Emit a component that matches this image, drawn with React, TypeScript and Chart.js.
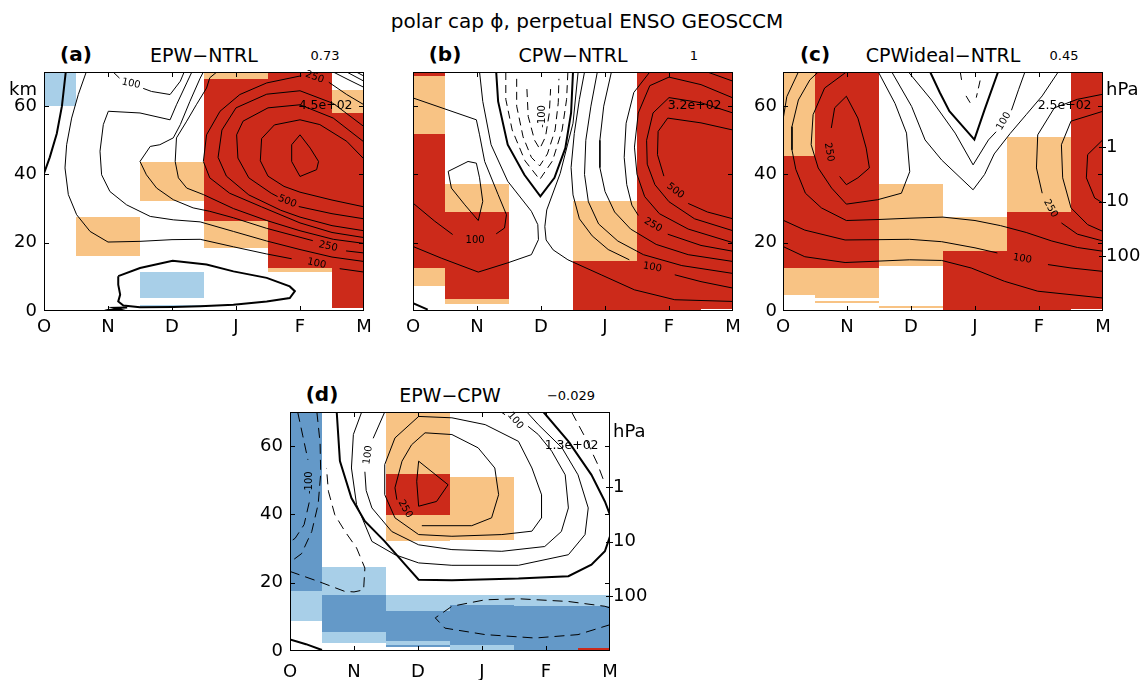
import React, { useEffect, useRef } from 'react';
import { Chart, registerables } from 'chart.js';

Chart.register(...registerables);

type P = [number, number] | null;
type Line = { kind: 'pos' | 'neg' | 'zero'; pts: P[] };
type Cell = [number, number, number, number, string];
type CLabel = [string, number, number, number];

// ---------- data ----------
const MONTHS = ['O', 'N', 'D', 'J', 'F', 'M'];
const KM_TICKS = [0, 20, 40, 60];
const HPA_TICKS_KM = [16, 32, 48];
const HPA_LABELS = ['100', '10', '1'];

const TITLE = 'polar cap \u03d5, perpetual ENSO GEOSCCM';
const PANEL_TAGS = ['(a)', '(b)', '(c)', '(d)'];
const PANEL_NAMES = ['EPW\u2212NTRL', 'CPW\u2212NTRL', 'CPWideal\u2212NTRL', 'EPW\u2212CPW'];
const PANEL_CORR = ['0.73', '1', '0.45', '\u22120.029'];
const PANEL_MAX = ['4.5e+02', '3.2e+02', '2.5e+02', '1.3e+02'];

// significance cells: [monthFrom, monthTo, kmFrom, kmTo, class]
const A_CELLS: Cell[] = [
  [0, 0.5, 59.9, 70, 'L'],
  [0.5, 1.5, 16.1, 27.6, 'O'],
  [1.5, 2.5, 32.3, 43.7, 'O'],
  [1.5, 2.5, 3.7, 11.3, 'L'],
  [1.5, 2.5, 1.1, 1.8, 'L'],
  [2.5, 3.5, 67.9, 70, 'O'],
  [2.5, 3.5, 26.3, 67.9, 'R'],
  [2.5, 3.5, 18.5, 26.3, 'O'],
  [3.5, 4.5, 12.7, 70, 'R'],
  [3.5, 4.5, 11.3, 12.7, 'O'],
  [4.5, 5, 58.1, 64.7, 'O'],
  [4.5, 5, 0.8, 58.1, 'R'],
];
const B_CELLS: Cell[] = [
  [0, 0.5, 68.8, 70, 'R'],
  [0, 0.5, 51.8, 68.8, 'O'],
  [0, 0.5, 12.6, 51.8, 'R'],
  [0, 0.5, 7.4, 12.6, 'O'],
  [0.5, 1.5, 29.0, 37.2, 'O'],
  [0.5, 1.5, 3.6, 29.0, 'R'],
  [0.5, 1.5, 2.0, 3.6, 'O'],
  [2.5, 3.5, 14.5, 32.3, 'O'],
  [2.5, 3.5, 0, 14.5, 'R'],
  [3.5, 4.5, 0, 70, 'R'],
  [4.5, 5, 0.6, 70, 'R'],
];
const C_CELLS: Cell[] = [
  [0, 0.5, 45.3, 70, 'O'],
  [0, 0.5, 12.6, 45.3, 'R'],
  [0, 0.5, 4.7, 12.6, 'O'],
  [0.5, 1.5, 12.6, 70, 'R'],
  [0.5, 1.5, 3.8, 12.6, 'O'],
  [0.5, 1.5, 2.4, 2.9, 'O'],
  [1.5, 2.5, 13.1, 37.2, 'O'],
  [1.5, 2.5, 0.8, 1.6, 'O'],
  [2.5, 3.5, 17.7, 27.4, 'O'],
  [2.5, 3.5, 0, 17.7, 'R'],
  [3.5, 4.5, 29.1, 50.9, 'O'],
  [3.5, 4.5, 0, 29.1, 'R'],
  [4.5, 5, 0.7, 70, 'R'],
];
const D_CELLS: Cell[] = [
  [0, 0.5, 17.5, 70, 'B'],
  [0, 0.5, 8.7, 17.5, 'L'],
  [0.5, 1.5, 16.3, 24.5, 'L'],
  [0.5, 1.5, 5.6, 16.3, 'B'],
  [0.5, 1.5, 2.4, 5.6, 'L'],
  [1.5, 2.5, 51.7, 70, 'O'],
  [1.5, 2.5, 39.7, 51.7, 'R'],
  [1.5, 2.5, 32.3, 39.7, 'O'],
  [1.5, 2.5, 11.6, 16.3, 'L'],
  [1.5, 2.5, 2.8, 11.6, 'B'],
  [1.5, 2.5, 1.8, 2.8, 'L'],
  [1.5, 2.5, 1.2, 1.8, 'B'],
  [2.5, 3.5, 32.6, 50.9, 'O'],
  [2.5, 3.5, 13.6, 16.3, 'L'],
  [2.5, 3.5, 1.7, 13.6, 'B'],
  [2.5, 3.5, 0.4, 1.7, 'L'],
  [3.5, 4.5, 13.1, 16.3, 'L'],
  [3.5, 4.5, 0.4, 13.1, 'B'],
  [4.5, 5, 13.1, 16.3, 'L'],
  [4.5, 5, 0.9, 13.1, 'B'],
  [4.5, 5, 0.3, 0.9, 'R'],
];

// contour lines: [month, km] points, null = break
const A_LINES: Line[] = [
  { kind: 'zero', pts: [[0, 40.3], [0.09, 45], [0.2, 52], [0.28, 60], [0.34, 70]] },
  { kind: 'zero', pts: [[1.16, 10.2], [1.5, 12.6], [2.01, 14.7], [2.54, 13.6], [2.96, 11.6], [3.48, 9.7], [3.84, 7.2], [3.92, 5.8], [3.84, 3.8], [3.48, 2.8], [2.96, 1.8], [2.44, 1.4], [2.02, 1.2], [1.5, 1.1], [1.24, 1.6], [1.16, 2.8], [1.19, 4.8], [1.16, 7.7], [1.16, 10.2]] },
  { kind: 'zero', pts: [[1.3, 1.0], [1.1, 0.9], [1.18, 0.5], [1.0, 0.3], [0.95, 0.1]] },
  { kind: 'pos', pts: [[0.66, 70], [0.536, 63.4], [0.432, 56.5], [0.354, 48.7], [0.328, 41.9], [0.38, 34.1], [0.51, 28.2], [0.72, 23.3], [1.0, 20.2], [1.5, 20.4], [2.0, 20.9], [2.44, 21], [2.96, 18.8], [3.48, 16.7], [3.87, 15.3], null, [4.62, 12.4], [5, 11.4]] },
  { kind: 'pos', pts: [[2.31, 70], [2.23, 66.8], [2.07, 60.4], [1.97, 56.0], [1.5, 58.0], [1.005, 58.5], [0.927, 54.6], [0.875, 46.8], [0.9, 39.9], [1.03, 35.0], [1.29, 31.1], [1.66, 27.7], [2.02, 26.7], [2.44, 26.1], [2.96, 23.3], [3.48, 20.5], [4.0, 18.0], [4.5, 15.8], [5, 14.5]] },
  { kind: 'pos', pts: [[1.08, 70], [1.18, 68.2], null, [1.55, 65.2], [1.68, 64.3], [1.97, 63.4], [2.13, 67.3], [2.19, 70]] },
  { kind: 'pos', pts: [[2.49, 70], [2.44, 68.2], [2.28, 61.4], [2.13, 54.6], [2.02, 50.7], [1.81, 48.7], [1.66, 48.2], [1.5, 43.8], [1.6, 39.9], [1.76, 36.0], [2.02, 32.6], [2.33, 30.2], [2.59, 29.2], [2.96, 27.3], [3.48, 24.2], [4.0, 21.6], [4.2, 20.6], null, [4.72, 17.6], [5, 17.0]] },
  { kind: 'pos', pts: [[2.7, 70], [2.59, 68.3], [2.54, 65.3], [2.38, 60.4], [2.23, 55.6], [2.07, 50.7], [2.05, 43.8], [2.1, 39.0], [2.23, 36.0], [2.49, 34.1], [2.96, 30.0], [3.48, 26.5], [4.0, 23.5], [4.52, 21], [5, 19.8]] },
  { kind: 'pos', pts: [[5, 60.4], [4.73, 63.4], [4.45, 67.0], null, [4.02, 68.9], [3.48, 66.8], [3.06, 63.4], [2.75, 58.5], [2.54, 51.6], [2.49, 43.8], [2.59, 39.0], [2.9, 34.5], [3.4, 30.5], [4.0, 25.8], [4.5, 23], [5, 21.5]] },
  { kind: 'pos', pts: [[5, 54], [4.52, 60.8], [4.0, 64.5], [3.48, 63.5], [3.0, 59.5], [2.78, 53], [2.72, 45], [2.85, 39.5], [3.2, 34.0], [3.7, 29.5], [4.0, 27.5], [4.5, 25], [5, 23.5]] },
  { kind: 'pos', pts: [[5, 49.5], [4.52, 56.5], [4.0, 60.4], [3.5, 59.5], [3.11, 55.6], [3.01, 51.6], [3.03, 44.8], [3.2, 39.0], [3.55, 34.5], [3.65, 33.5], null, [3.98, 30.6], [4.5, 28.5], [5, 27]] },
  { kind: 'pos', pts: [[5, 44.5], [4.73, 49.7], [4.31, 54.6], [4.0, 56.0], [3.6, 54.5], [3.4, 50.5], [3.38, 44], [3.5, 39.5], [3.75, 36.5], [4.0, 34.8], [4.5, 32.5], [5, 30.5]] },
  { kind: 'pos', pts: [[3.87, 48.7], [4.0, 51.6], [4.16, 47.7], [4.29, 43.8], [4.26, 41.4], [4.0, 39.4], [3.87, 43.8], [3.87, 48.7]] },
  { kind: 'pos', pts: [[4.52, 70], [4.75, 67.8], [5, 65.5]] },
  { kind: 'pos', pts: [[4.73, 70], [5, 67.3]] },
  { kind: 'pos', pts: [[4.88, 70], [5, 68.8]] },
];
const B_LINES: Line[] = [
  { kind: 'zero', pts: [[1.3, 70], [1.33, 61.4], [1.48, 48.7], [1.74, 39.9], [1.99, 33.6], [2.21, 39.0], [2.38, 47.7], [2.47, 58], [2.5, 70]] },
  { kind: 'neg', pts: [[1.45, 70], [1.45, 62], [1.55, 53], [1.75, 44], [1.98, 38.5], [2.18, 44], [2.33, 53], [2.4, 62], [2.42, 70]] },
  { kind: 'neg', pts: [[1.62, 68], [1.62, 60], [1.72, 51], [1.85, 45], [1.98, 42.5], [2.1, 46], [2.22, 53], [2.27, 61], [2.28, 68]] },
  { kind: 'neg', pts: [[1.78, 65], [1.8, 57], [1.9, 50], [1.98, 47.5], [2.07, 51], [2.13, 58], [2.15, 65]] },
  { kind: 'pos', pts: [[1.04, 70], [1.09, 61.4], [1.22, 48.7], [1.48, 38.0], [1.85, 29.2], [1.95, 25.3], [1.96, 20.9], [1.85, 16.5], [1.48, 14.1], [1.02, 11.4], [0.44, 15.5], [0, 18.9]] },
  { kind: 'pos', pts: [[2.58, 70], [2.5, 55.0], [2.3, 40.3], [2.09, 29.6], [2.06, 24.7], [2.08, 20.8], [2.19, 17.9], [2.42, 15.0], [2.94, 10.6], [3.46, 6.2], [4.09, 3.3], [5, 2.8]] },
  { kind: 'pos', pts: [[2.68, 70], [2.6, 62], [2.52, 52], [2.47, 42], [2.5, 34], [2.6, 27], [2.8, 22], [3.05, 18], [3.38, 15.0], null, [4.09, 10.6], [4.5, 8.6], [5, 6.7]] },
  { kind: 'pos', pts: [[2.88, 70], [2.78, 60], [2.7, 50], [2.68, 40], [2.74, 32], [2.9, 25.5], [3.2, 20.5], [3.6, 16.5], [4.2, 13.3], [5, 11]] },
  { kind: 'pos', pts: [[3.1, 70], [2.98, 60], [2.92, 50], [2.92, 42], [3.0, 35], [3.15, 29], [3.4, 24], [3.8, 19.5], [4.3, 16.5], [5, 14.5]] },
  { kind: 'pos', pts: [[3.7, 70], [3.45, 64], [3.33, 55], [3.3, 45], [3.34, 37], [3.42, 31], [3.52, 28], null, [3.98, 22.5], [4.5, 19.2], [5, 17.5]] },
  { kind: 'pos', pts: [[5, 62.4], [4.5, 66.3], [4.0, 68.5], [3.7, 66], [3.52, 58], [3.46, 48], [3.5, 40], [3.62, 33.5], [3.85, 28.5], [4.3, 24], [5, 20]] },
  { kind: 'pos', pts: [[5, 58], [4.5, 61], [4.0, 62.5], [3.75, 58], [3.65, 50], [3.66, 43], [3.78, 37], [4.0, 32], [4.4, 27], [5, 23.5]] },
  { kind: 'pos', pts: [[5, 53], [4.5, 55.1], [3.98, 56.5], [3.83, 52.6], [3.82, 45.8], [3.92, 39.5], null, [4.3, 31.5], [4.6, 29], [5, 27]] },
  { kind: 'pos', pts: [[4.6, 70], [5, 67.3]] },
  { kind: 'pos', pts: [[0, 62.4], [0.99, 56.0], [1.04, 51.6], [1.12, 43.8], [1.33, 34.1], [1.46, 28.2], [1.43, 24.3], [1.3, 22.6], null, [0.62, 22.4], [0.34, 26.3], [0, 31.6]] },
  { kind: 'pos', pts: [[0.55, 40.9], [0.86, 43.8], [0.99, 43.3], [1.04, 39.0], [1.09, 32.1], [1.02, 26.5], [0.81, 31.1], [0.6, 36.0], [0.55, 40.9]] },
  { kind: 'zero', pts: [[0, 2.3], [0.23, 0.4]] },
];
const C_LINES: Line[] = [
  { kind: 'zero', pts: [[2.3, 70], [2.45, 64], [2.6, 58.5], [2.99, 50.2], [3.15, 59], [3.36, 70]] },
  { kind: 'neg', pts: [[2.77, 70], [2.8, 66.5]] },
  { kind: 'neg', pts: [[3.08, 67.5], [3.02, 62.5]] },
  { kind: 'neg', pts: [[2.86, 63], [2.94, 60.5]] },
  { kind: 'pos', pts: [[1.96, 70], [2.32, 61.8], [2.69, 52.1], [2.97, 42.8], [3.21, 50.1], [3.33, 52.5], null, [3.57, 58.8], [3.68, 64.8], [3.78, 70]] },
  { kind: 'pos', pts: [[1.7, 70], [2.01, 59.9], [2.22, 50.1], [2.48, 44.2], [2.97, 35.5], [3.15, 40], [3.3, 46], [3.55, 52], [3.8, 57.5], [4.05, 63], [4.3, 70]] },
  { kind: 'pos', pts: [[0.755, 53.6], [0.807, 59.5], [0.99, 62.9], [1.17, 56.5], [1.3, 47.7], [1.35, 41.9], [1.17, 39.0], [0.99, 37.0], [0.885, 39.4]] },
  { kind: 'pos', pts: [[0.99, 70], [0.65, 65.3], [0.47, 57.5], [0.44, 48.7], [0.55, 41.9], [0.76, 36.0], [0.99, 31.3], [1.48, 32.6], [1.85, 34.5], [1.98, 40.8], [1.93, 52.1], [1.75, 60.8], [1.49, 70]] },
  { kind: 'pos', pts: [[0.24, 70], [0.06, 62.8], [0, 56]] },
  { kind: 'pos', pts: [[0.55, 70], [0.42, 67.7], [0.24, 61.8], [0.14, 54.0], [0.14, 47.2], [0.2, 41.5], [0.35, 34.5], [0.6, 30.2], [0.99, 26.5], [1.5, 26.8], [2.0, 27.2], [2.5, 27.5], [3.0, 26.5], [3.4, 25], [3.8, 23], [4.2, 20.5], [4.6, 18.6], [5, 17.5]] },
  { kind: 'pos', pts: [[0, 26.6], [0.34, 23.7], [0.97, 20.8], [1.5, 20.9], [1.98, 21.0], [2.48, 20.3], [3.0, 18.5], [3.35, 17.0], null, [4.14, 13.6], [4.5, 12.6], [5, 11.6]] },
  { kind: 'pos', pts: [[0, 18.9], [0.34, 15.9], [0.97, 14.2], [1.98, 15.0], [2.48, 14.8], [2.94, 12.6], [3.46, 8.7], [3.98, 5.8], [5, 3.8]] },
  { kind: 'pos', pts: [[5, 50.2], [4.76, 45.8], [4.74, 39.0], [4.87, 33.1], [5, 31.6]] },
  { kind: 'pos', pts: [[5, 58.5], [4.5, 55.6], [4.35, 48.7], [4.37, 39.0], [4.5, 30.2], [4.76, 25.3], [5, 23.3]] },
  { kind: 'pos', pts: [[5, 63.5], [4.6, 62], [4.24, 59.5], [3.98, 51.6], [3.96, 41.9], [4.05, 34.5], null, [4.35, 25.8], [4.6, 22.5], [5, 20.5]] },
];
const D_LINES: Line[] = [
  { kind: 'zero', pts: [[0.73, 70], [0.78, 55.6], [0.96, 44.8], [1.17, 38.0], [1.48, 32.1], [1.8, 25.3], [2.01, 20.9], [2.53, 20.7], [3.57, 21.2], [4.35, 21.9], [4.71, 25.3], [4.92, 29.2], [5, 33.6]] },
  { kind: 'zero', pts: [[3.96, 70], [4.35, 61.4], [4.71, 51.6], [4.92, 43.8], [5, 39.9]] },
  { kind: 'zero', pts: [[0, 3.4], [0.25, 2.0], [0.5, 0.3]] },
  { kind: 'pos', pts: [[2.01, 55.6], [2.47, 48.7], [2.29, 43.8], [2.01, 42.4], [1.98, 49.7], [2.01, 55.6]] },
  { kind: 'pos', pts: [[2.06, 36.7], [2.84, 36.7], [3.15, 39.0], [3.26, 45.8], [3.2, 53.6], [2.94, 59.5], [2.53, 63.4], [2.11, 63.9], [1.9, 60.4], [1.75, 55.6], [1.64, 47.8], [1.67, 44.3]] },
  { kind: 'pos', pts: [[1.48, 54.6], [1.64, 62.4], [2.01, 68.7], [2.53, 68.3], [3.05, 66.3], [3.57, 61.4], [3.78, 53.6], [3.93, 45.8], [3.93, 39.0], [3.78, 35.1], [3.31, 34.1], [2.53, 33.6], [2.01, 34.1], [1.64, 39.0], [1.48, 45.8], [1.48, 54.6]] },
  { kind: 'pos', pts: [[1.48, 70], [1.3, 62.3], null, [1.17, 52.5], [1.19, 47], [1.28, 41.9], [1.59, 35.0], [2.01, 31.1], [2.53, 29.7], [3.31, 29.2], [3.98, 30.6], [4.24, 35.0], [4.35, 41.9], [4.3, 51.6], [4.09, 58.5], [3.88, 63.4], [3.72, 65.8], null, [3.36, 69.2], [3.3, 70]] },
  { kind: 'pos', pts: [[1.12, 70], [0.99, 63.4], [0.96, 53.6], [1.04, 42.9], [1.28, 32.1], [1.64, 28.2], [2.01, 25.8], [2.53, 25.1], [3.57, 25.1], [4.35, 28.2], [4.61, 34.1], [4.66, 41.9], [4.5, 51.6], [4.25, 59.5], [3.88, 66.3], [3.7, 70]] },
  { kind: 'neg', pts: [[0.12, 70], [0.2, 63], [0.28, 56], null, [0.3, 43.5], [0.22, 37], [0.08, 33], [0, 32]] },
  { kind: 'neg', pts: [[0.42, 70], [0.47, 61], [0.48, 52], [0.44, 43], [0.34, 35], [0.18, 28.5], [0, 26]] },
  { kind: 'neg', pts: [[0, 23.3], [0.44, 20.4], [0.85, 17.5], [1.0, 17.3], [1.15, 17.9], [1.17, 24.3], [1.04, 30.2], [0.86, 35.0], [0.7, 39.9], [0.6, 46.8], [0.57, 53.6]] },
  { kind: 'neg', pts: [[5, 12.6], [4.92, 13.1], [4.35, 14.5], [3.57, 15.3], [3.05, 15.0], [2.53, 13.1], [2.27, 9.7], [2.42, 6.7], [3.05, 4.8], [3.83, 3.8], [4.5, 4.8], [5, 7.7]] },
  { kind: 'neg', pts: [[4.4, 70], [4.6, 63], [4.8, 55], [4.92, 49]] },
];

// contour labels: [text, month, km, angle]
const A_LABELS: CLabel[] = [
  ['100', 1.36, 66.6, 12], ['500', 3.8, 32.1, 22], ['250', 4.44, 18.9, 12], ['100', 4.26, 13.9, 12], ['250', 4.23, 68.5, 20],
];
const B_LABELS: CLabel[] = [
  ['-100', 2.02, 57, -90], ['100', 0.97, 20.8, 0], ['500', 4.1, 35.2, 38], ['250', 3.75, 25.2, 30], ['100', 3.74, 12.8, 10],
];
const C_LABELS: CLabel[] = [
  ['250', 0.72, 46.5, 80], ['100', 3.45, 55.6, -60], ['250', 4.18, 30.0, 62], ['100', 3.74, 15.3, 10],
];
const D_LABELS: CLabel[] = [
  ['-100', 0.31, 49.3, -90], ['100', 1.22, 57.4, -82], ['250', 1.8, 41.6, 60], ['100', 3.52, 67.5, 50],
];

const CELLS = [A_CELLS, B_CELLS, C_CELLS, D_CELLS];
const LINES = [A_LINES, B_LINES, C_LINES, D_LINES];
const LABELS = [A_LABELS, B_LABELS, C_LABELS, D_LABELS];

// ---------- style / layout ----------
const FONT = '"DejaVu Sans", "Liberation Sans", sans-serif';
const FILL: Record<string, string> = { R: '#cc2a1a', O: '#f8c384', L: '#a8cfe8', B: '#6499c8' };
const CW = 404;
const CH = 309;
const PAD_L = 44;
const PAD_T = 40;
const PAD_R = 40;
const PAD_B = 30;
const MAX_AT: [number, number] = [4.4, 60];

const LAYOUT = [
  { left: 44, top: 72, yMode: 'km', hpa: false, xPad: 6, yPad: 7, unitAt: 64.7 },
  { left: 413, top: 72, yMode: 'none', hpa: false, xPad: 6, yPad: 7, unitAt: 64.7 },
  { left: 783, top: 72, yMode: 'num', hpa: true, xPad: 6, yPad: 6, unitAt: 64.7 },
  { left: 290, top: 412, yMode: 'num', hpa: true, xPad: 11, yPad: 7, unitAt: 63.9 },
];

function toXY(pts: P[]) {
  const out: any[] = [];
  let lastX = 0;
  for (const p of pts) {
    if (p) {
      out.push({ x: p[0], y: p[1] });
      lastX = p[0];
    } else {
      out.push({ x: lastX, y: null });
    }
  }
  return out;
}

function buildConfig(i: number) {
  const L = LAYOUT[i];
  const datasets = LINES[i].map((l) => ({
    data: toXY(l.pts),
    borderColor: '#000',
    borderWidth: l.kind === 'zero' ? 2 : 1,
    borderDash: l.kind === 'neg' ? (i === 3 ? [10, 6] : [8, 5]) : [],
    pointRadius: 0,
    pointHoverRadius: 0,
    spanGaps: false,
    tension: 0,
    fill: false,
  }));

  const leftVals = L.yMode === 'km' ? [...KM_TICKS, L.unitAt] : KM_TICKS;
  const leftText = L.yMode === 'km' ? [...KM_TICKS.map(String), 'km'] : KM_TICKS.map(String);
  const rightVals = [...HPA_TICKS_KM, L.unitAt];
  const rightText = [...HPA_LABELS, 'hPa'];
  const tickFont = { family: FONT, size: 18 };
  const noGrid = { display: false, drawTicks: false, tickLength: 0 };

  const cellsPlugin = {
    id: 'cells' + i,
    beforeDatasetsDraw(chart: any) {
      const { ctx, chartArea: a, scales } = chart;
      const xs = scales.x;
      const ys = scales.y;
      ctx.save();
      ctx.beginPath();
      ctx.rect(a.left, a.top, a.width, a.height);
      ctx.clip();
      for (const [x0, x1, y0, y1, k] of CELLS[i]) {
        const px0 = Math.round(xs.getPixelForValue(x0));
        const px1 = Math.round(xs.getPixelForValue(x1));
        const py0 = Math.round(ys.getPixelForValue(y1));
        const py1 = Math.round(ys.getPixelForValue(y0));
        ctx.fillStyle = FILL[k];
        ctx.fillRect(px0, py0, px1 - px0, py1 - py0);
      }
      ctx.restore();
    },
  };

  const labelsPlugin = {
    id: 'clabels' + i,
    afterDatasetsDraw(chart: any) {
      const { ctx, scales } = chart;
      const xs = scales.x;
      const ys = scales.y;
      ctx.save();
      ctx.fillStyle = '#000';
      ctx.textAlign = 'center';
      ctx.textBaseline = 'middle';
      ctx.font = `10px ${FONT}`;
      for (const [t, m, k, r] of LABELS[i]) {
        ctx.save();
        ctx.translate(xs.getPixelForValue(m), ys.getPixelForValue(k));
        ctx.rotate((r * Math.PI) / 180);
        ctx.fillText(t, 0, 0);
        ctx.restore();
      }
      ctx.font = `12.5px ${FONT}`;
      ctx.fillText(PANEL_MAX[i], xs.getPixelForValue(MAX_AT[0]), ys.getPixelForValue(MAX_AT[1]));
      ctx.restore();
    },
  };

  const framePlugin = {
    id: 'frame' + i,
    afterDraw(chart: any) {
      const { ctx, chartArea: a, scales } = chart;
      const xs = scales.x;
      const ys = scales.y;
      ctx.save();
      ctx.strokeStyle = '#000';
      ctx.lineWidth = 1;
      ctx.strokeRect(a.left + 0.5, a.top + 0.5, a.width - 1, a.height - 1);
      ctx.beginPath();
      const tl = 5;
      for (let m = 1; m < MONTHS.length - 1; m++) {
        const px = Math.round(xs.getPixelForValue(m)) + 0.5;
        ctx.moveTo(px, a.bottom);
        ctx.lineTo(px, a.bottom - tl);
        ctx.moveTo(px, a.top);
        ctx.lineTo(px, a.top + tl);
      }
      for (const v of KM_TICKS.slice(1)) {
        const py = Math.round(ys.getPixelForValue(v)) + 0.5;
        ctx.moveTo(a.left, py);
        ctx.lineTo(a.left + tl, py);
        ctx.moveTo(a.right, py);
        ctx.lineTo(a.right - tl, py);
      }
      if (L.hpa) {
        for (const v of HPA_TICKS_KM) {
          const py = Math.round(ys.getPixelForValue(v)) + 0.5;
          ctx.moveTo(a.right - 4, py);
          ctx.lineTo(a.right + 3, py);
        }
      }
      ctx.stroke();
      ctx.restore();
    },
  };

  return {
    type: 'line',
    data: { datasets },
    options: {
      animation: false,
      responsive: false,
      events: [],
      layout: { padding: { top: PAD_T, left: 0, right: 0, bottom: 0 }, autoPadding: false },
      plugins: { legend: { display: false }, tooltip: { enabled: false }, title: { display: false } },
      scales: {
        x: {
          type: 'linear',
          min: 0,
          max: 5,
          afterBuildTicks: (s: any) => {
            s.ticks = MONTHS.map((_, k) => ({ value: k }));
          },
          afterFit: (s: any) => {
            s.height = PAD_B;
          },
          ticks: {
            autoSkip: false,
            maxRotation: 0,
            minRotation: 0,
            padding: L.xPad,
            color: '#000',
            font: tickFont,
            callback: (_v: any, idx: number) => MONTHS[idx],
          },
          grid: noGrid,
          border: { display: false },
        },
        y: {
          type: 'linear',
          position: 'left',
          min: 0,
          max: 70,
          afterBuildTicks: (s: any) => {
            s.ticks = leftVals.map((v) => ({ value: v }));
          },
          afterFit: (s: any) => {
            s.width = PAD_L;
          },
          ticks: {
            display: L.yMode !== 'none',
            autoSkip: false,
            padding: L.yPad,
            color: '#000',
            font: tickFont,
            callback: (_v: any, idx: number) => leftText[idx],
          },
          grid: noGrid,
          border: { display: false },
        },
        y2: {
          type: 'linear',
          position: 'right',
          min: 0,
          max: 70,
          afterBuildTicks: (s: any) => {
            s.ticks = rightVals.map((v) => ({ value: v }));
          },
          afterFit: (s: any) => {
            s.width = PAD_R;
          },
          ticks: {
            display: L.hpa,
            autoSkip: false,
            padding: 3,
            color: '#000',
            font: tickFont,
            callback: (_v: any, idx: number) => rightText[idx],
          },
          grid: noGrid,
          border: { display: false },
        },
      },
    },
    plugins: [cellsPlugin, labelsPlugin, framePlugin],
  };
}

function Panel({ idx }: { idx: number }) {
  const ref = useRef<HTMLCanvasElement>(null);
  useEffect(() => {
    const chart = new Chart(ref.current as HTMLCanvasElement, buildConfig(idx) as any);
    return () => chart.destroy();
  }, [idx]);
  const L = LAYOUT[idx];
  return (
    <canvas
      ref={ref}
      width={CW}
      height={CH}
      style={{ position: 'absolute', left: L.left - PAD_L, top: L.top - PAD_T, width: CW, height: CH }}
    />
  );
}

function Txt({ cx, baseline, size, bold, children }: any) {
  return (
    <div
      style={{
        position: 'absolute',
        left: cx,
        top: baseline - 0.928 * size,
        transform: 'translateX(-50%)',
        fontFamily: FONT,
        fontSize: size,
        fontWeight: bold ? 'bold' : 'normal',
        lineHeight: 1.164,
        whiteSpace: 'nowrap',
        color: '#000',
      }}
    >
      {children}
    </div>
  );
}

export default function App() {
  return (
    <div
      style={{
        position: 'absolute',
        left: 0,
        top: 0,
        width: 1143,
        height: 680,
        overflow: 'hidden',
        background: '#fff',
      }}
    >
      <Txt cx={587} baseline={28.8} size={20}>{TITLE}</Txt>
      {LAYOUT.map((L, i) => (
        <React.Fragment key={i}>
          <Txt cx={L.left + 32} baseline={L.top - 10} size={20} bold>{PANEL_TAGS[i]}</Txt>
          <Txt cx={L.left + 160} baseline={L.top - 10.3} size={19}>{PANEL_NAMES[i]}</Txt>
          <Txt cx={L.left + 281} baseline={L.top - 12.4} size={13}>{PANEL_CORR[i]}</Txt>
          <Panel idx={i} />
        </React.Fragment>
      ))}
    </div>
  );
}
